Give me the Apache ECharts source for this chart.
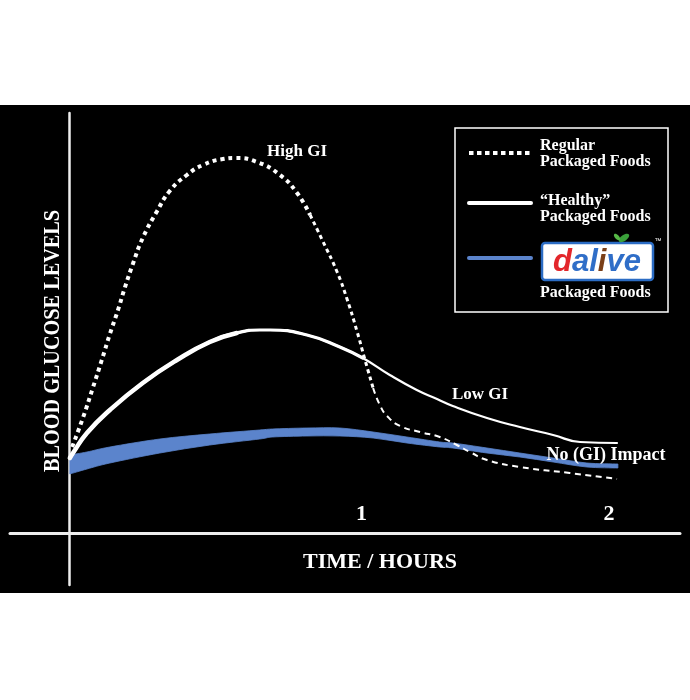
<!DOCTYPE html>
<html>
<head>
<meta charset="utf-8">
<script src="https://cdn.jsdelivr.net/npm/echarts@6/dist/echarts.min.js"></script>
<style>
html,body{margin:0;padding:0;background:#fff;width:690px;height:700px;overflow:hidden;}
#chart{position:absolute;left:0;top:105px;width:690px;height:488px;background:#000;}
</style>
</head>
<body>
<div id="chart"></div>
<script>
// time in minutes, glucose level in arbitrary units
const highGIX = [0.7,3.1,5.3,7.3,9.1,10.9,12.4,14.2,16.4,19.6,22.4,26.2,29.8,34.2,36.9,41.8,46.9,50.7,53.6,56.4,59.6,61.8,64,65.8,67.6,69.1,70.7,73.6,78,82.4,86.2,89.1,92.9,100.2,111.3,121.8];
const highGIY = [86,115,145,173,199,223,245,269,295,322,342,358,368,374,375,371,358,340,318,292,261,234,202,173,145,128,117,107,101,96,88,81,73,66,60,54];

const healthyX = [0.2,0.9,4,9.1,16.4,24,31.3,37.3,42.4,44.7,52.9,60.2,65.3,71.3,77.3,81.8,85.3,92.9,100.2,107.6,113.6,121.8];
const healthyY = [75,80,100,123,150,173,191,200,203,203,198,186,175,158,143,134,127,115,106,98,91,90];

const blueX = [0.2,4,9.1,20.2,31.3,42.4,45.3,52.9,60.2,67.6,75.1,82.4,85.3,92.9,100.2,107.6,115.1,122];
const blueTop = [78,81,86,94,99,103,104,105,105,101,96,91,90,85,80,75,70,69];
const blueBottom = [59,64,70,80,88,94,96,97,97,95,90,86,85,80,76,71,66,65];

const tickPositions = [65, 120];
const tickLabels = ['1', '2'];

const legendNames = ['Regular', 'Packaged Foods', '\u201cHealthy\u201d', 'Packaged Foods', 'Packaged Foods'];

const WHITE = '#ffffff';
const BLUE = '#5b84cc';
const SERIF = '"Liberation Serif", "DejaVu Serif", serif';

function pairs(xs, ys, from, to) {
  const out = [];
  for (let i = 0; i < xs.length; i++) {
    if (xs[i] >= from && xs[i] <= to) out.push([xs[i], ys[i]]);
  }
  return out;
}

// smooth (Catmull-Rom) path through pixel points
function smoothPath(pts, moveFirst) {
  let d = (moveFirst ? 'M' : 'L') + pts[0][0].toFixed(2) + ' ' + pts[0][1].toFixed(2);
  for (let i = 0; i < pts.length - 1; i++) {
    const p0 = pts[Math.max(0, i - 1)], p1 = pts[i], p2 = pts[i + 1], p3 = pts[Math.min(pts.length - 1, i + 2)];
    const c1x = p1[0] + (p2[0] - p0[0]) / 6, c1y = p1[1] + (p2[1] - p0[1]) / 6;
    const c2x = p2[0] - (p3[0] - p1[0]) / 6, c2y = p2[1] - (p3[1] - p1[1]) / 6;
    d += ' C' + c1x.toFixed(2) + ' ' + c1y.toFixed(2) + ' ' + c2x.toFixed(2) + ' ' + c2y.toFixed(2) + ' ' + p2[0].toFixed(2) + ' ' + p2[1].toFixed(2);
  }
  return d;
}

const series = [];
// blue band between bottom and top edge
series.push({
  type: 'custom', coordinateSystem: 'cartesian2d', silent: true, z: 2,
  data: blueX.map((x, i) => [x, blueTop[i], blueBottom[i]]),
  encode: { x: 0, y: [1, 2] },
  renderItem: function (params, api) {
    if (params.dataIndex !== 0) return null;
    const top = blueX.map((x, i) => api.coord([x, blueTop[i]]));
    const bot = blueX.map((x, i) => api.coord([x, blueBottom[i]])).reverse();
    const d = smoothPath(top, true) + ' ' + smoothPath(bot, false) + ' Z';
    return { type: 'path', shape: { pathData: d }, style: { fill: BLUE, stroke: BLUE, lineWidth: 0.8 } };
  }
});
// healthy line, tapering width (thin full line + thicker overlays at the start)
[[200, 2.2], [65.3, 3.2], [37.3, 4.5]].forEach(s => {
  series.push({
    type: 'line', smooth: true, symbol: 'none', silent: true,
    data: pairs(healthyX, healthyY, 0, s[0]),
    lineStyle: { color: WHITE, width: s[1], cap: 'round' }, z: 3
  });
});
// high GI dotted line
[[0, 53.6, 4, [4, 4]], [53.6, 67.6, 3, [4, 3.5]], [67.6, 200, 2, [6, 4.5]]].forEach(s => {
  series.push({
    type: 'line', smooth: true, symbol: 'none', silent: true,
    data: pairs(highGIX, highGIY, s[0], s[1]),
    lineStyle: { color: WHITE, width: s[2], type: s[3], cap: 'butt' }, z: 4
  });
});

const txt = (x, y, text, size, align) => ({
  type: 'text', x: x, y: y, z: 10,
  style: { text: text, fill: WHITE, font: 'bold ' + size + 'px ' + SERIF,
           textAlign: align || 'center', textVerticalAlign: 'middle' }
});

const graphic = [
  { type: 'text', x: 53, y: 236, rotation: Math.PI / 2, scaleX: 0.88, z: 10,
    style: { text: 'BLOOD GLUCOSE LEVELS', fill: WHITE, font: 'bold 23px ' + SERIF,
             textAlign: 'center', textVerticalAlign: 'middle' } },
  txt(380, 457, 'TIME / HOURS', 22),
  txt(297, 47, 'High GI', 17),
  txt(480, 290, 'Low GI', 17),
  txt(606, 350, 'No (GI) Impact', 18),
  // legend box
  { type: 'rect', z: 10, shape: { x: 455, y: 23, width: 213, height: 184 },
    style: { fill: 'none', stroke: WHITE, lineWidth: 1.5 } },
  { type: 'line', z: 10, shape: { x1: 469, y1: 48, x2: 531, y2: 48 },
    style: { stroke: WHITE, lineWidth: 4, lineDash: [4.5, 3.5] } },
  { type: 'line', z: 10, shape: { x1: 469, y1: 98, x2: 531, y2: 98 },
    style: { stroke: WHITE, lineWidth: 4, lineCap: 'round' } },
  { type: 'line', z: 10, shape: { x1: 469, y1: 153, x2: 531, y2: 153 },
    style: { stroke: BLUE, lineWidth: 4, lineCap: 'round' } },
  txt(540, 41, legendNames[0], 16, 'left'),
  txt(540, 57, legendNames[1], 16, 'left'),
  txt(540, 96, legendNames[2], 16, 'left'),
  txt(540, 112, legendNames[3], 16, 'left'),
  txt(540, 188, legendNames[4], 16, 'left'),
  // logo
  { type: 'rect', z: 10, shape: { x: 542, y: 138, width: 111, height: 37, r: 3 },
    style: { fill: '#ffffff', stroke: '#2b6cc4', lineWidth: 2.5 } },
  { type: 'text', x: 597, y: 157, z: 11,
    style: { text: '{d|d}{a|al}{i|i}{a|ve}', textAlign: 'center', textVerticalAlign: 'middle',
      rich: {
        d: { fill: '#e3262b', font: 'italic bold 31px "Liberation Sans", sans-serif' },
        a: { fill: '#2f6ec8', font: 'italic bold 31px "Liberation Sans", sans-serif' },
        i: { fill: '#7a3f18', font: 'italic bold 31px "Liberation Sans", sans-serif' }
      } } },
  { type: 'ellipse', z: 12, shape: { cx: 624, cy: 133, rx: 6, ry: 3 }, rotation: 0.6,
    originX: 624, originY: 133, style: { fill: '#3aa03a' } },
  { type: 'ellipse', z: 12, shape: { cx: 617, cy: 132, rx: 4, ry: 2 }, rotation: -0.8,
    originX: 617, originY: 132, style: { fill: '#56b846' } },
  { type: 'text', x: 658, y: 136, z: 10,
    style: { text: '\u2122', fill: WHITE, font: '7px sans-serif', textAlign: 'center', textVerticalAlign: 'middle' } }
];

const chart = echarts.init(document.getElementById('chart'), null, { renderer: 'canvas' });
chart.setOption({
  backgroundColor: '#000',
  animation: false,
  grid: { left: 10, right: 10, top: 8, bottom: 8 },
  xAxis: {
    type: 'value', min: -13.1, max: 135.8,
    axisLine: { onZero: true, lineStyle: { color: '#eeeeee', width: 3 } },
    axisTick: { show: false },
    splitLine: { show: false },
    axisLabel: {
      inside: true, margin: 60, customValues: tickPositions,
      formatter: v => tickLabels[tickPositions.indexOf(v)],
      color: WHITE, fontFamily: SERIF, fontWeight: 'bold', fontSize: 22
    }
  },
  yAxis: {
    type: 'value', min: -52, max: 420,
    axisLine: { onZero: true, lineStyle: { color: '#eeeeee', width: 2.5 } },
    axisTick: { show: false }, axisLabel: { show: false }, splitLine: { show: false }
  },
  series: series,
  graphic: graphic
});
</script>
</body>
</html>
